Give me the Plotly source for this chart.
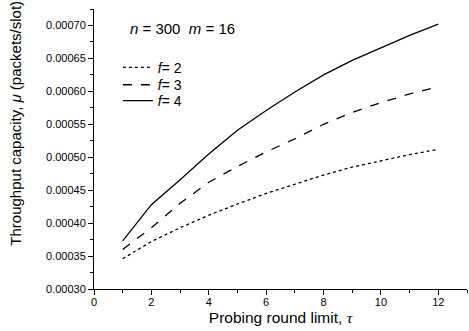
import plotly.graph_objects as go

tau = [1, 2, 3, 4, 5, 6, 7, 8, 9, 10, 11, 12]
f2 = [0.000346, 0.000372, 0.000393, 0.000412, 0.000429, 0.000445, 0.000459, 0.000473, 0.000485, 0.000495, 0.000504, 0.000512]
f3 = [0.000360, 0.000393, 0.000430, 0.000462, 0.000486, 0.000508, 0.000528, 0.000550, 0.000568, 0.000583, 0.000596, 0.000607]
f4 = [0.000373, 0.000428, 0.000466, 0.000505, 0.000541, 0.000571, 0.000599, 0.000625, 0.000647, 0.000666, 0.000685, 0.000702]
names = ["<i>f</i>= 2", "<i>f</i>= 3", "<i>f</i>= 4"]
dashes = ["dot", "dash", "solid"]
legend_ids = ["legend", "legend2", "legend3"]
legend_y = [0.790, 0.728, 0.671]

font = "Liberation Sans, Arial, sans-serif"
fig = go.Figure()
for ys, nm, d, lg in zip([f2, f3, f4], names, dashes, legend_ids):
    fig.add_trace(go.Scatter(x=tau, y=ys, mode="lines", name=nm, legend=lg,
                             line=dict(color="black", width=1.3, dash=d)))

legend_common = dict(xanchor="left", yanchor="middle", bgcolor="rgba(0,0,0,0)",
                     borderwidth=0, font=dict(size=14, family=font), itemwidth=30)
fig.update_layout(
    width=469, height=331,
    margin=dict(l=94, r=2, t=8.5, b=42, autoexpand=False),
    paper_bgcolor="white", plot_bgcolor="white",
    font=dict(family=font, color="black", size=11),
    showlegend=True,
    legend=dict(x=0.064, y=legend_y[0], **legend_common),
    legend2=dict(x=0.064, y=legend_y[1], **legend_common),
    legend3=dict(x=0.064, y=legend_y[2], **legend_common),
    xaxis=dict(range=[0, 13], dtick=2, tick0=0, showgrid=False, zeroline=False,
               showline=True, linecolor="black", linewidth=1, automargin=False,
               ticks="outside", ticklen=5, tickcolor="black", ticklabelstandoff=-2,
               minor=dict(dtick=1, ticks="outside", ticklen=3, tickcolor="black"),
               title=dict(text="Probing round limit, <i style='font-family:serif'>τ</i>",
                          font=dict(size=15.5), standoff=4),
               tickfont=dict(size=11)),
    yaxis=dict(range=[0.0003, 0.000725], dtick=0.00005, tick0=0.0003,
               tickformat=".5f", showgrid=False, zeroline=False,
               showline=True, linecolor="black", linewidth=1, automargin=False,
               ticks="outside", ticklen=5, tickcolor="black",
               minor=dict(dtick=0.000025, ticks="outside", ticklen=3, tickcolor="black"),
               tickfont=dict(size=11)),
)
fig.add_annotation(xref="paper", yref="paper", x=-0.209, y=0.146, xanchor="center",
                   yanchor="bottom", showarrow=False, textangle=-90,
                   text="Throughput capacity, <i>μ</i> (packets/slot)",
                   font=dict(size=15, family=font))
fig.add_annotation(xref="paper", yref="paper", x=0.091, y=0.932, xanchor="left",
                   yanchor="middle", showarrow=False,
                   text="<i>n</i> = 300  <i>m</i> = 16", font=dict(size=15, family=font))
fig.write_html("out.html", config={"displayModeBar": False},
               post_script="document.body.style.margin='0';")
